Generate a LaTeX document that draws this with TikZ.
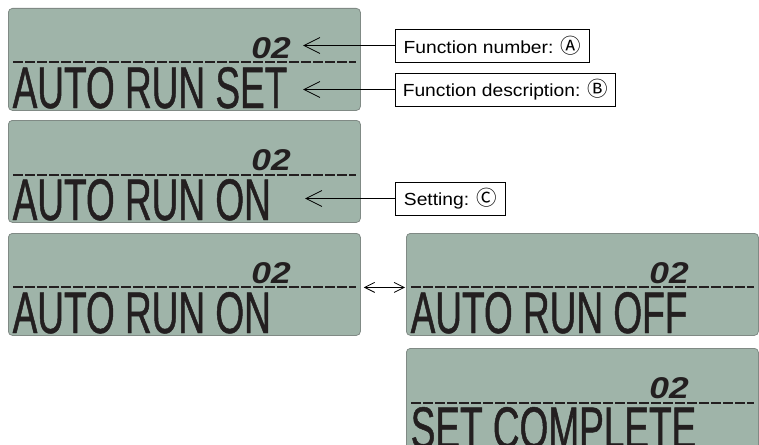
\documentclass[tikz,border=0pt]{standalone}
\usepackage{fontspec}
\setmainfont{Liberation Sans}
\newfontfamily\lcdfont[FakeStretch=0.63,FakeBold=0.8]{Liberation Sans}
\newfontfamily\segfont[FakeStretch=1.18]{Liberation Sans}
\newfontfamily\lblfont[FakeStretch=1.1]{Liberation Sans}
\newfontfamily\circfont{Noto Sans CJK SC}
\usetikzlibrary{arrows.meta}
\definecolor{panelfill}{RGB}{159,180,169}
\definecolor{panelborder}{RGB}{128,138,133}
\definecolor{lcdtext}{RGB}{35,31,32}
\newcommand{\circlet}[1]{{\circfont\fontsize{20.5}{20}\selectfont #1}}
\begin{document}
\begin{tikzpicture}[x=1pt,y=-1pt,
  panel/.style={draw=panelborder, fill=panelfill, rounded corners=4pt, line width=0.8pt,
    minimum width=352pt, minimum height=102pt, inner sep=0pt, anchor=north west},
  bigtxt/.style={font=\lcdfont\fontsize{58.7}{60}\selectfont, text=lcdtext, inner sep=0pt, anchor=base west},
  segtxt/.style={font=\segfont\bfseries\itshape\fontsize{30}{31}\selectfont, text=lcdtext, inner sep=0pt, anchor=base east},
  dashline/.style={draw=lcdtext, line width=1.1pt, dash pattern=on 9.5pt off 2.5pt},
  lbl/.style={draw=black, line width=0.8pt, font=\lblfont\fontsize{17.5}{18}\selectfont,
    minimum height=33pt, inner sep=0pt, anchor=west},
  callout/.style={draw=black, line width=0.8pt, -{Straight Barb[length=16pt,width=16pt]}},
  dbl/.style={draw=black, line width=0.8pt, {Straight Barb[length=10pt,width=10pt]}-{Straight Barb[length=10pt,width=10pt]}}
]
\clip (0,0) rectangle (759,444);
\useasboundingbox (0,0) rectangle (759,444);

% panel 1
\node[panel] (p1) at (8,8) {};
\draw[dashline] (13,62) -- (356,62);
\node[segtxt] (n1) at (291,58.5) {02};
\node[bigtxt] (t1) at (12.5,108) {AUTO RUN SET};

% panel 2
\node[panel] (p2) at (8,120) {};
\draw[dashline] (13,175) -- (356,175);
\node[segtxt] (n2) at (291,170.5) {02};
\node[bigtxt] (t2) at (12.5,220) {AUTO RUN ON};

% panel 3
\node[panel] (p3) at (8,233) {};
\draw[dashline] (13,287) -- (356,287);
\node[segtxt] (n3) at (291,283.5) {02};
\node[bigtxt] (t3) at (12.5,333) {AUTO RUN ON};

% panel 4
\node[panel] (p4) at (406,233) {};
\draw[dashline] (411,287) -- (754,287);
\node[segtxt] (n4) at (689,283.5) {02};
\node[bigtxt] (t4) at (410.5,333) {AUTO RUN OFF};

% panel 5
\node[panel] (p5) at (406,348) {};
\draw[dashline] (411,403) -- (754,403);
\node[segtxt] (n5) at (689,398.5) {02};
\node[bigtxt] (t5) at (410.5,448) {SET COMPLETE};

% labels
\node[lbl, minimum width=194pt] (la) at (395,45.5) {Function number: \circlet{Ⓐ}};
\node[lbl, minimum width=220pt] (lb) at (395,89.5) {Function description: \circlet{Ⓑ}};
\node[lbl, minimum width=110pt] (lc) at (395,198.5) {Setting: \circlet{Ⓒ}};

\coordinate (ta) at (303,45.5);
\coordinate (tb) at (303,89.5);
\coordinate (tc) at (305,198.5);
\draw[callout] (la.west) -- (ta);
\draw[callout] (lb.west) -- (tb);
\draw[callout] (lc.west) -- (tc);

\draw[dbl] ([xshift=3pt,yshift=-3pt]p3.east) -- ([xshift=-1pt,yshift=-3pt]p4.west);
\end{tikzpicture}
\end{document}
